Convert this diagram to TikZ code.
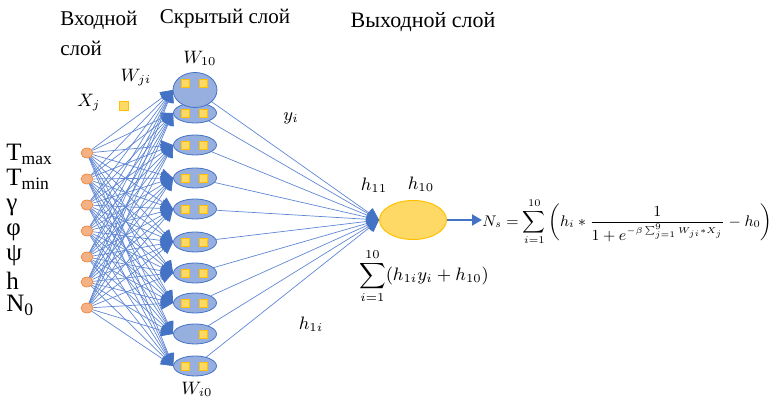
\RequirePackage{fix-cm}
\documentclass[tikz,border=0pt]{standalone}
\usepackage{amsmath}
\usepackage{graphicx}
\usepackage{fontspec}
\setmainfont{Liberation Serif}
\usetikzlibrary{arrows.meta,positioning,backgrounds,shapes.geometric}
\definecolor{netblue}{RGB}{68,114,196}
\definecolor{linkblue}{RGB}{95,135,212}
\definecolor{hidblue}{RGB}{150,175,222}
\definecolor{inorange}{RGB}{244,177,131}
\definecolor{inedge}{RGB}{237,125,49}
\definecolor{biasyellow}{RGB}{255,217,102}
\definecolor{biasedge}{RGB}{255,192,0}

\begin{document}
\begin{tikzpicture}[x=0.5pt, y=-0.5pt,
    inp/.style={ellipse, draw=inedge, line width=0.3pt, fill=inorange, minimum width=6pt, minimum height=5pt, inner sep=0pt},
    hid/.style={ellipse, draw=netblue, line width=0.4pt, fill=hidblue, minimum width=21.5pt, minimum height=10pt, inner sep=0pt},
    sq/.style={draw=biasedge, line width=0.4pt, fill=biasyellow, minimum size=4pt, inner sep=0pt},
    outn/.style={ellipse, draw=biasedge, line width=0.5pt, fill=biasyellow, minimum width=33.5pt, minimum height=19.5pt, inner sep=0pt},
    link/.style={draw=linkblue, line width=0.35pt, -{Triangle[length=6pt, width=6pt, color=netblue]}},
    outarr/.style={draw=netblue, line width=1pt, -{Triangle[length=5pt, width=5.5pt]}},
    title/.style={font=\fontsize{10.5}{11}\selectfont, inner sep=0pt},
    var/.style={font=\fontsize{12.5}{13}\selectfont, inner sep=0pt, anchor=base west},
    lab/.style={font=\fontsize{9}{10}\selectfont, inner sep=0pt},
    formula/.style={font=\fontsize{9}{11}\selectfont, inner sep=0pt}
]
\useasboundingbox (0,0) rectangle (778,399);

% layer titles
\node[title, anchor=north west, align=left] (tin) at (60,11) {Входной\\[4pt]слой};
\node[title] (thid) at (225,19) {Скрытый слой};
\node[title, font=\fontsize{11}{12}\selectfont] (tout) at (423,22) {Выходной слой};

% input layer
\foreach \y [count=\j] in {153,179,205,231,257,282,308}
    \node[inp] (in\j) at (87,\y) {};
\foreach \t/\b [count=\j] in {T\textsubscript{max}/161, T\textsubscript{min}/186, γ/211, φ/236, ψ/261, h/290, N\textsubscript{0}/312}
    \node[var] (v\j) at (6,\b) {\t};

% hidden layer
\foreach \y [count=\i from 2] in {113,145,178,209,242,273,303,334,366}
    \node[hid] (h\i) at (195,\y) {};
\node[hid, minimum width=22pt, minimum height=17.5pt] (h1) at (195,90) {};
\node[sq] (b1l) at ([shift={(-5pt,3.5pt)}]h1.center) {};
\node[sq] (b1r) at ([shift={(4pt,3.5pt)}]h1.center) {};
\foreach \i in {2,...,8,10}
    \node[sq] (b\i l) at ([xshift=-5pt]h\i.center) {};
\foreach \i in {2,...,10}
    \node[sq] (b\i r) at ([xshift=4pt]h\i.center) {};

% output layer
\node[outn] (out) at (413,220) {};

\begin{scope}[on background layer]
\foreach \j in {1,...,7}
    \foreach \i in {1,...,10}
        \draw[link] (in\j) -- (h\i.west);
\foreach \i in {1,...,10}
    \draw[link] (h\i) -- (out.west);
\end{scope}

% labels
\node[lab] (w10) at (200,58) {$W_{10}$};
\node[lab] (wji) at (136,78) {$W_{ji}$};
\node[lab] (xj) at (89,103) {$X_j$};
\node[sq, minimum size=4.5pt] (bx) at (124,106) {};
\node[lab] (yi) at (291,118) {$y_i$};
\node[lab] (h11) at (374,185) {$h_{11}$};
\node[lab] (h10) at (421,184) {$h_{10}$};
\node[lab] (h1i) at (311,324) {$h_{1i}$};
\node[lab] (wi0) at (197,389) {$W_{i0}$};
\node[formula] (sumh) at (424,276) {$\displaystyle\sum_{i=1}^{10}(h_{1i}y_i+h_{10})$};

% result
\node[formula, anchor=west] (ns) at (482,222) {\resizebox{145pt}{!}{$\displaystyle N_s=\sum_{i=1}^{10}\left(h_i*\frac{1}{1+e^{\scriptscriptstyle-\beta\sum_{j=1}^{9}W_{ji}*X_j}}-h_0\right)$}};
\draw[outarr] (out.east) -- (out.east -| ns.west);
\end{tikzpicture}
\end{document}
